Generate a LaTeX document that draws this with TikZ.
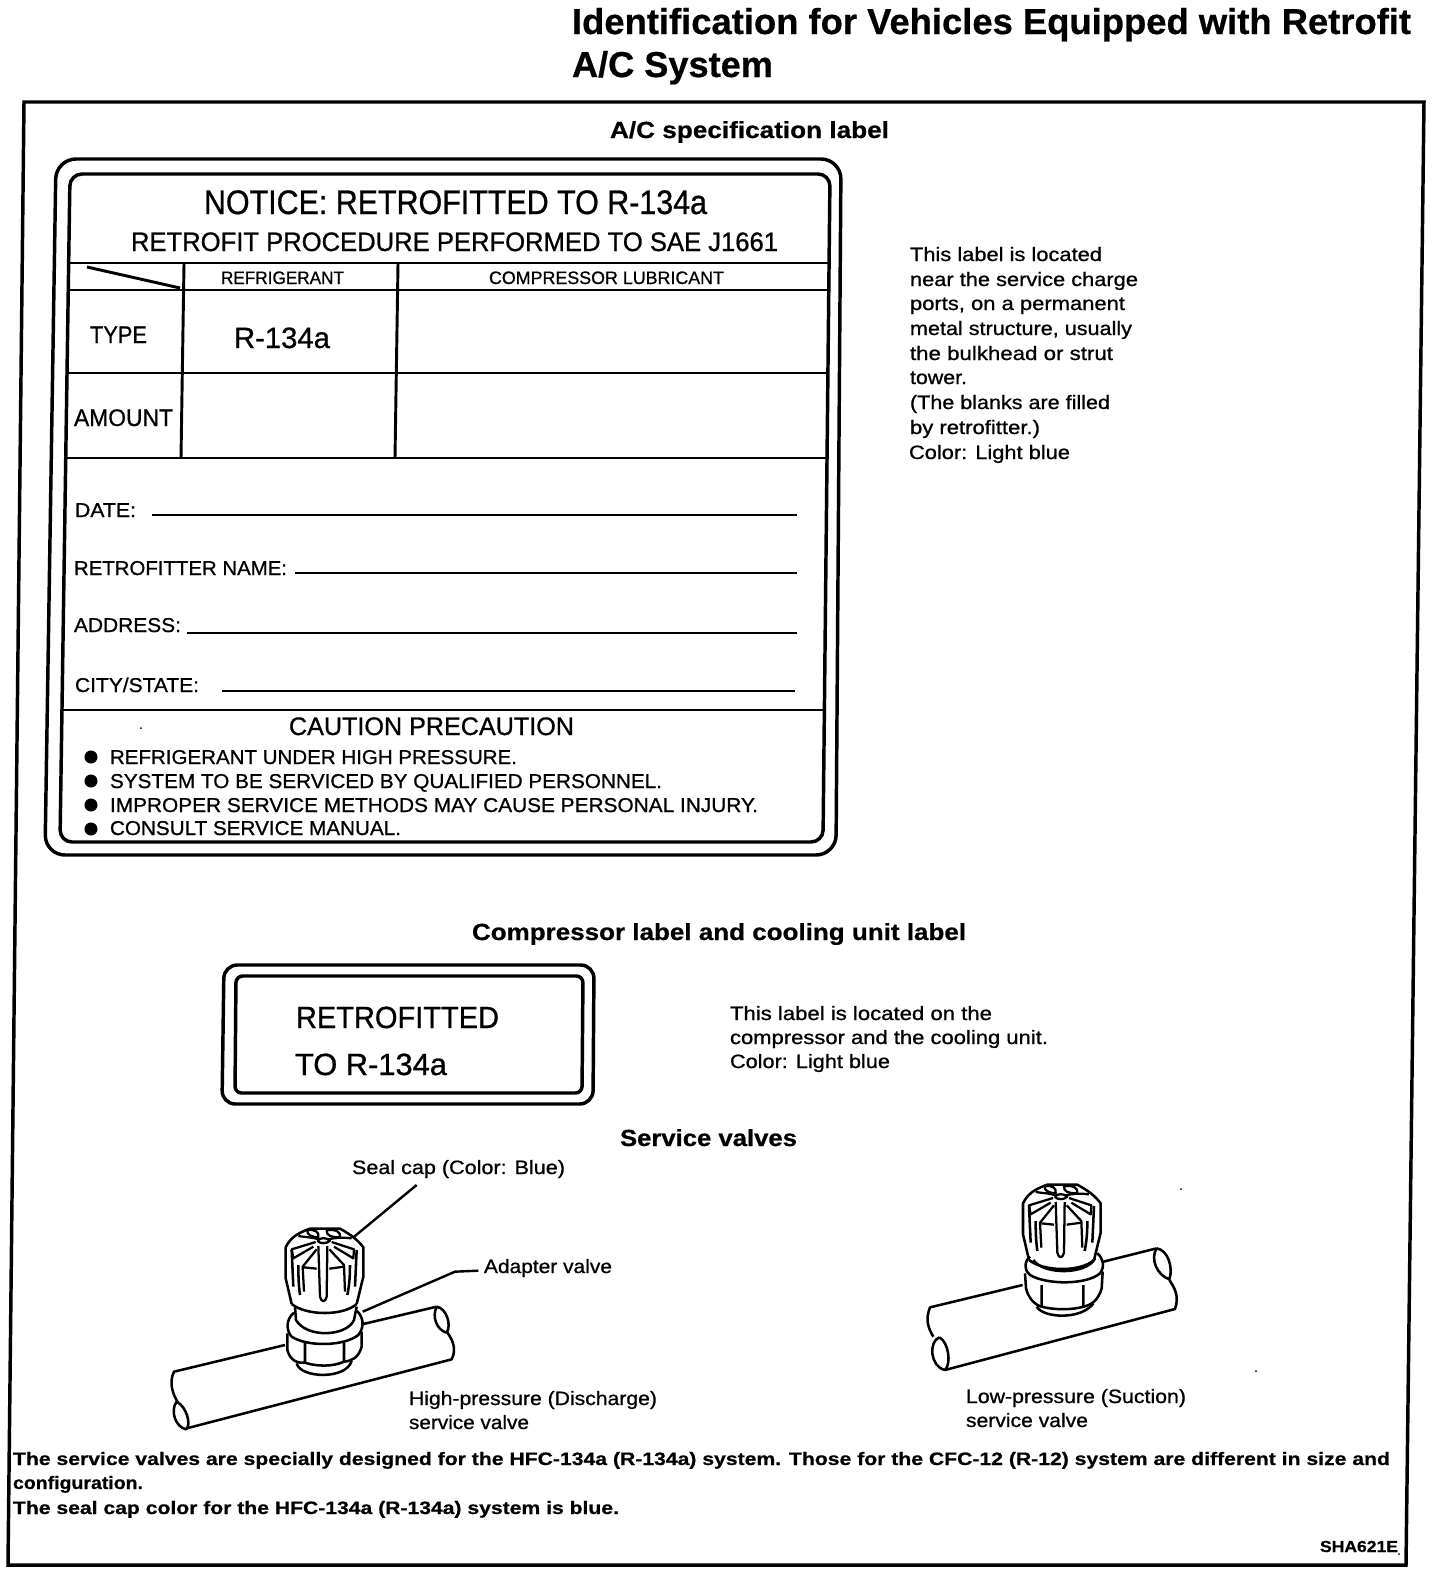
\documentclass[tikz,border=0pt]{standalone}
\usepackage{fontspec}
\usepackage{graphicx}
\setmainfont{Liberation Sans}[UprightFeatures={FakeBold=0.8},BoldFeatures={FakeBold=0.6}]
\newcommand\tx[6]{\node[txt] (#1) at (#2,#3) {\resizebox{\dimexpr #4pt*3/4\relax}{\height}{\fontsize{#5}{#5}\selectfont #6}};}
\newcommand\valvecap{%
  % body
  \draw[vl] (425,462) -- (407,385) -- (407,292) .. controls (420,265) and (440,250) .. (480,236) -- (570,236) .. controls (605,255) and (625,272) .. (640,292) -- (640,380) -- (620,462);
  \draw[vl] (425,462) .. controls (470,498) and (580,498) .. (620,462);
  % top of the cap
  \draw[vt] (445,258) .. controls (470,262) and (490,262) .. (505,268);
  \draw[vt] (535,268) .. controls (560,262) and (585,262) .. (605,265);
  \draw[vt] (472,240) .. controls (468,255) and (490,262) .. (505,262) .. controls (508,245) and (495,238) .. (472,240);
  \draw[vt] (530,240) .. controls (528,258) and (545,262) .. (570,262) .. controls (572,245) and (560,238) .. (530,240);
  \draw[vt] (502,272) .. controls (510,262) and (530,262) .. (540,272) .. controls (530,282) and (510,282) .. (502,272);
  % spokes
  \draw[vt] (497,276) -- (425,298) -- (430,325) -- (490,290);
  \draw[vt] (545,276) -- (612,298) -- (610,325) -- (552,290);
  % ribs
  \draw[vt] (505,288) -- (510,440) .. controls (514,458) and (526,458) .. (530,440) -- (532,288);
  \draw[vl] (425,300) -- (430,410);
  \draw[vl] (620,300) -- (615,410);
  \draw[vl] (445,345) .. controls (445,380) and (446,405) .. (450,435);
  \draw[vl] (600,345) .. controls (600,380) and (598,405) .. (592,435);
  \draw[vt] (462,425) -- (458,350) -- (500,298);
  \draw[vt] (585,425) -- (582,345) -- (538,298);
  \draw[vt] (462,352) -- (500,356);
  \draw[vt] (538,356) -- (582,350);
}
\tikzset{
  x=.75pt,y=-.75pt,
  txt/.style={anchor=base west,inner sep=0pt,outer sep=0pt},
  frame/.style={line width=2.6pt,black},
  tl/.style={line width=2.2pt,black},
  vl/.style={line width=1.9pt,black,line join=round},
  vt/.style={line width=1.7pt,black,line join=round},
  lead/.style={line width=1.8pt,black},
  bul/.style={circle,fill=black,inner sep=0pt,minimum size=9.8pt}
}
\begin{document}
\begin{tikzpicture}
\useasboundingbox (0,0) rectangle (1440,1574);
\fill[white] (0,0) rectangle (1440,1574);
% titles
\tx{t1}{572}{34}{839}{27}{\bfseries Identification for Vehicles Equipped with Retrofit}
\tx{t2}{572}{77}{201}{27}{\bfseries A/C System}
% page frame
\draw[frame] (24,102) -- (1424,102) -- (1406,1565) -- (8,1565) -- cycle;
\tx{h1}{610}{138}{279}{17.5}{\bfseries A/C specification label}
% big label
\draw[frame,rounded corners=15] (56,159) -- (841,159) -- (836,855) -- (45,855) -- cycle;
\draw[frame,rounded corners=9] (70,174) -- (830,174) -- (823,842) -- (60,842) -- cycle;
\draw[tl] (68,263) -- (829,263);
\draw[tl] (67,290) -- (828,290);
\draw[tl] (66,373) -- (827,373);
\draw[tl] (65,458) -- (826,458);
\draw[tl] (62,710) -- (824,710);
\draw[tl] (184,264) -- (181,458);
\draw[tl] (398,264) -- (395,458);
\draw[tl] (87,267) -- (180,288);
\tx{n1}{204}{214}{503}{25.5}{NOTICE: RETROFITTED TO R-134a}
\tx{n2}{131}{251}{647}{20}{RETROFIT PROCEDURE PERFORMED TO SAE J1661}
\tx{c1}{221}{284}{123}{13.5}{REFRIGERANT}
\tx{c2}{489}{284}{235}{13.5}{COMPRESSOR LUBRICANT}
\tx{ty}{90}{343}{57}{18}{TYPE}
\tx{r1}{234}{348}{96}{22}{R-134a}
\tx{am}{74}{426}{99}{18}{AMOUNT}
\tx{f1}{75}{517}{61}{15}{DATE:}
\tx{f2}{74}{575}{213}{15}{RETROFITTER NAME:}
\tx{f3}{74}{632}{107}{15}{ADDRESS:}
\tx{f4}{75}{692}{124}{15}{CITY/STATE:}
\coordinate (e1) at (797,515);
\coordinate (e2) at (797,573);
\coordinate (e3) at (797,633);
\coordinate (e4) at (795,691);
\draw[tl] (152,515) -- (e1);
\draw[tl] (295,573) -- (e2);
\draw[tl] (187,633) -- (e3);
\draw[tl] (222,691) -- (e4);
\tx{ca}{289}{735}{285}{19}{CAUTION PRECAUTION}
\node[bul] (b1) at (91,757) {};
\node[bul] (b2) at (91,781) {};
\node[bul] (b3) at (91,805) {};
\node[bul] (b4) at (91,829) {};
\tx{l1}{110}{764}{407}{15}{REFRIGERANT UNDER HIGH PRESSURE.}
\tx{l2}{110}{788}{552}{15}{SYSTEM TO BE SERVICED BY QUALIFIED PERSONNEL.}
\tx{l3}{110}{812}{648}{15}{IMPROPER SERVICE METHODS MAY CAUSE PERSONAL INJURY.}
\tx{l4}{110}{835}{291}{15}{CONSULT SERVICE MANUAL.}
% side note
\tx{s1}{910}{261}{192}{14.5}{This label is located}
\tx{s2}{910}{286}{228}{14.5}{near the service charge}
\tx{s3}{910}{310}{215}{14.5}{ports, on a permanent}
\tx{s4}{910}{335}{222}{14.5}{metal structure, usually}
\tx{s5}{910}{360}{203}{14.5}{the bulkhead or strut}
\tx{s6}{910}{384}{57}{14.5}{tower.}
\tx{s7}{910}{409}{200}{14.5}{(The blanks are filled}
\tx{s8}{910}{434}{130}{14.5}{by retrofitter.)}
\tx{s9}{909}{459}{161}{14.5}{Color: Light blue}
% compressor label
\tx{h2}{472}{940}{494}{17.5}{\bfseries Compressor label and cooling unit label}
\draw[frame,rounded corners=10] (224,965) -- (594,965) -- (593,1104) -- (222,1104) -- cycle;
\draw[frame,rounded corners=5] (236,976) -- (583,976) -- (582,1093) -- (235,1093) -- cycle;
\tx{p1}{296}{1028}{203}{23}{RETROFITTED}
\tx{p2}{295}{1075}{152}{23}{TO R-134a}
\tx{q1}{730}{1020}{262}{14.5}{This label is located on the}
\tx{q2}{730}{1044}{318}{14.5}{compressor and the cooling unit.}
\tx{q3}{730}{1068}{160}{14.5}{Color: Light blue}
% valves
\tx{h3}{620}{1146}{177}{17.5}{\bfseries Service valves}
\tx{v1}{352}{1174}{213}{14.5}{Seal cap (Color: Blue)}
\tx{v2}{484}{1273}{128}{14.5}{Adapter valve}
\tx{v3}{409}{1405}{248}{14.5}{High-pressure (Discharge)}
\tx{v4}{409}{1429}{120}{14.5}{service valve}
\tx{v5}{966}{1403}{220}{14.5}{Low-pressure (Suction)}
\tx{v6}{966}{1427}{122}{14.5}{service valve}
% high-pressure valve
\begin{scope}[shift={(150,1150)},x=.25pt,y=-.25pt]
  \coordinate (a1) at (800,105);
  \coordinate (a2) at (610,262);
  \coordinate (a3) at (985,362);
  \coordinate (a4) at (915,365);
  \coordinate (a5) at (638,485);
  \draw[lead] (a1) -- (a2);
  \draw[lead] (a3) -- (a4) -- (a5);
  \draw[vl] (405,585) -- (72,665) .. controls (55,700) and (70,735) .. (84,758);
  \draw[vl] (640,522) -- (860,470);
  \draw[vl] (80,755) .. controls (60,780) and (75,830) .. (108,838) .. controls (125,825) and (110,770) .. (80,755);
  \draw[vl] (110,835) -- (905,628) .. controls (922,595) and (905,565) .. (890,545);
  \draw[vl] (860,470) .. controls (845,500) and (860,540) .. (890,548) .. controls (905,525) and (890,475) .. (860,470);
  \draw[vl] (432,488) .. controls (405,510) and (410,545) .. (425,560) .. controls (470,590) and (580,590) .. (625,555) .. controls (645,530) and (640,500) .. (620,482);
  \draw[vl] (435,470) -- (438,510) .. controls (470,565) and (590,560) .. (612,510) -- (620,470);
  \draw[vl] (412,550) -- (412,600) .. controls (420,630) and (440,640) .. (465,638);
  \draw[vl] (635,545) -- (635,590) .. controls (625,625) and (605,632) .. (582,635);
  \draw[vl] (465,575) -- (465,638) .. controls (500,650) and (550,650) .. (582,635) -- (582,578);
  \draw[vl] (440,640) .. controls (450,685) and (590,690) .. (605,632);
  \valvecap
\end{scope}
% low-pressure valve
\begin{scope}[shift={(900,1160)},x=.25pt,y=-.25pt]
  \draw[vl] (368,375) -- (90,442) .. controls (75,480) and (85,505) .. (100,530);
  \draw[vl] (610,305) -- (770,265);
  \draw[vl] (118,532) .. controls (85,545) and (90,620) .. (135,630) .. controls (155,610) and (145,545) .. (118,532);
  \draw[vl] (135,630) -- (825,447) .. controls (838,410) and (825,385) .. (808,360);
  \draw[vl] (770,265) .. controls (750,295) and (770,345) .. (808,358) .. controls (820,325) and (805,270) .. (770,265);
  \draw[vl] (390,290) .. controls (370,305) and (375,335) .. (390,345) .. controls (440,375) and (560,375) .. (600,340) .. controls (615,320) and (610,295) .. (592,280);
  \draw[vl] (400,300) .. controls (430,345) and (560,345) .. (585,295);
  \draw[vl] (375,340) -- (378,385) .. controls (385,415) and (405,435) .. (425,440);
  \draw[vl] (608,335) -- (605,385) .. controls (595,420) and (575,435) .. (550,440);
  \draw[vl] (425,375) -- (425,440) .. controls (460,450) and (520,450) .. (550,440) -- (550,375);
  \draw[vl] (410,440) .. controls (430,475) and (545,480) .. (580,430);
  \begin{scope}[shift={(-38,-162)}]
    \valvecap
  \end{scope}
\end{scope}
% footer
\tx{b1t}{13}{1465}{1377}{13.5}{\bfseries The service valves are specially designed for the HFC-134a (R-134a) system. Those for the CFC-12 (R-12) system are different in size and}
\tx{b2t}{13}{1489}{130}{13.5}{\bfseries configuration.}
\tx{b3t}{13}{1514}{606}{13.5}{\bfseries The seal cap color for the HFC-134a (R-134a) system is blue.}
\tx{code}{1320}{1552}{78}{12}{\bfseries SHA621E}
% specks
\fill[black] (141,728) circle (1);
\fill[black] (1181,1189) circle (1);
\fill[black] (1256,1371) circle (1);
\fill[black] (1399,1554) circle (1);
\end{tikzpicture}
\end{document}
